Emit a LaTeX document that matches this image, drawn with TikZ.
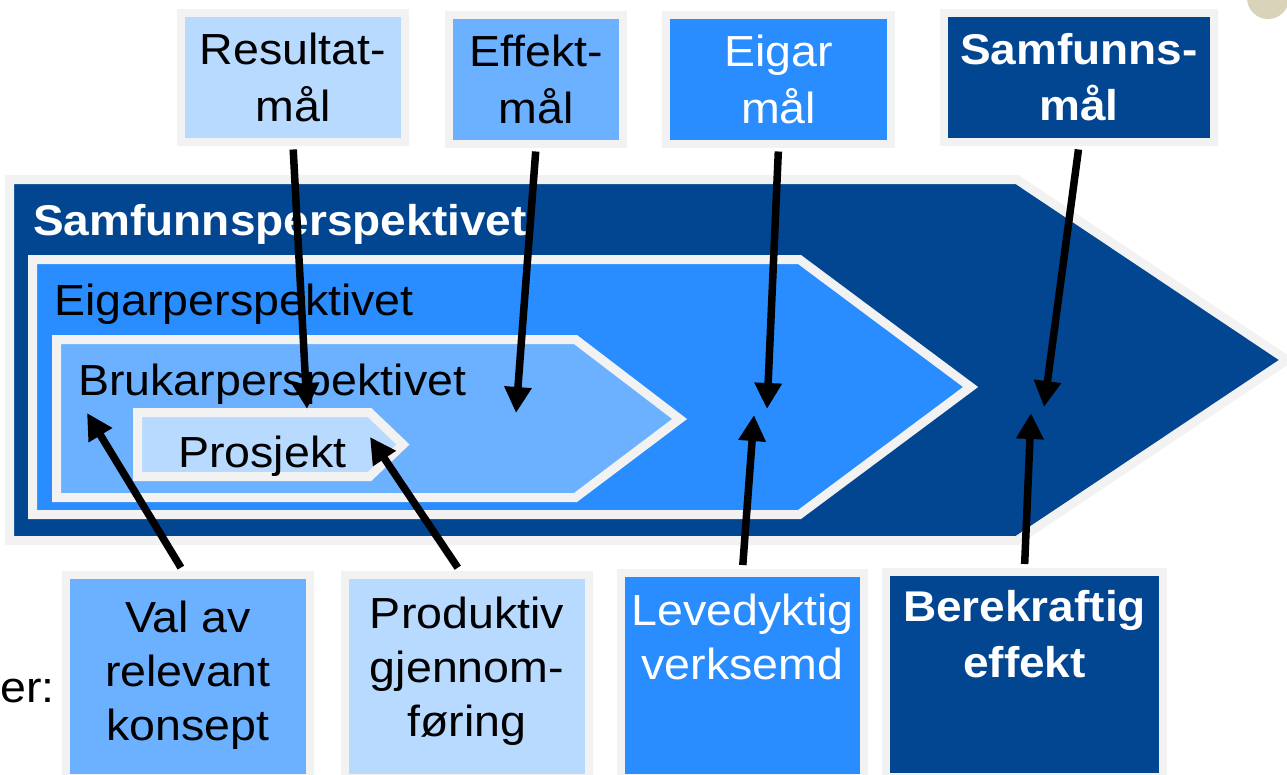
\documentclass[tikz,border=0pt]{standalone}
\usepackage{fontspec}
\setmainfont{Liberation Sans}[FakeStretch=1.07]
\usetikzlibrary{arrows.meta,positioning}
\definecolor{navy}{RGB}{2,70,145}
\definecolor{midblue}{RGB}{41,140,255}
\definecolor{lightblue}{RGB}{108,177,255}
\definecolor{paleblue}{RGB}{184,218,255}
\definecolor{rim}{RGB}{242,242,242}
\definecolor{dot}{RGB}{217,211,186}

\begin{document}
\begin{tikzpicture}[x=1pt,y=-1pt]
% Define node styles
\tikzstyle{goal} = [draw=rim, line width=8pt, inner sep=0pt, align=center, font=\fontsize{43.5}{57}\selectfont]
\tikzstyle{crit} = [goal, anchor=north, font=\fontsize{43.5}{54}\selectfont]
\tikzstyle{persp} = [draw=rim, line width=9pt, line join=miter]
\tikzstyle{caption} = [anchor=base west, inner sep=0pt, font=\fontsize{43.5}{52}\selectfont]
\tikzstyle{heavy} = [font=\fontsize{43}{56}\selectfont\bfseries]
\tikzstyle{link} = [line width=7.5pt, -{Triangle[length=26pt,width=26pt]}]

\useasboundingbox (0,0) rectangle (1287,774);
\fill[dot] (1268,-2) circle (21);

% Draw perspectives
\draw[persp, fill=navy] (9.5,179.5) -- (1017,179.5) -- (1287,360) -- (1017,540.5) -- (9.5,540.5) -- cycle;
\draw[persp, fill=midblue] (32.5,259.5) -- (799.5,259.5) -- (970.6,387) -- (799.5,514.5) -- (32.5,514.5) -- cycle;
\draw[persp, fill=lightblue] (56.5,339.5) -- (575.5,339.5) -- (679.6,419) -- (575.5,497.5) -- (56.5,497.5) -- cycle;
\draw[persp, fill=paleblue] (137.5,412.5) -- (369.5,412.5) -- (403,444.5) -- (369.5,476.5) -- (137.5,476.5) -- cycle;

\node[caption, heavy, text=white] (samT) at (33,235) {Samfunnsperspektivet};
\node[caption] (eigT) at (54,315) {Eigarperspektivet};
\node[caption] (bruT) at (78,395) {Brukarperspektivet};
\node[caption] (proT) at (178,467) {Prosjekt};
\node[caption] (er) at (0,702) {er:};

% Draw nodes
\node[goal, fill=paleblue, minimum width=224pt, minimum height=129pt] (res) at (293,77) {Resultat-\\mål};
\node[goal, fill=lightblue, minimum width=174pt, minimum height=129pt] (eff) at (536,79) {Effekt-\\mål};
\node[goal, fill=midblue, text=white, minimum width=225pt, minimum height=129pt] (eig) at (778.5,79) {Eigar\\mål};
\node[goal, heavy, fill=navy, text=white, minimum width=270pt, minimum height=129pt] (sam) at (1079,77) {Samfunns-\\mål};

\node[crit, fill=lightblue, minimum width=244pt, text height=165pt, text depth=38pt] (val) at (188,571) {Val av\\relevant\\konsept};
\node[crit, fill=paleblue, minimum width=244pt, text height=161pt, text depth=42pt] (pro) at (467,571) {Produktiv\\gjennom-\\føring};
\node[crit, fill=midblue, text=white, minimum width=243pt, text height=106pt, text depth=99pt] (lev) at (742.5,569) {Levedyktig\\verksemd};
\node[crit, heavy, fill=navy, text=white, minimum width=277pt, text height=105pt, text depth=100pt] (ber) at (1024.5,568) {Berekraftig\\effekt};

\coordinate (resEnd) at (307,409);
\coordinate (effEnd) at (516,413);
\coordinate (eigEnd) at (767,409);
\coordinate (samEnd) at (1044,407);
\coordinate (valEnd) at (87,413);
\coordinate (proEnd) at (370,437);
\coordinate (levEnd) at (754,415);
\coordinate (berEnd) at (1031,413);

% Draw edges
\draw[link, shorten <=4pt] (res.south) -- (resEnd);
\draw[link, shorten <=4pt] (eff.south) -- (effEnd);
\draw[link, shorten <=4pt] (eig.south) -- (eigEnd);
\draw[link, shorten <=4pt] (sam.south) -- (samEnd);
\draw[link, shorten <=4pt] ([xshift=-5pt]val.north) -- (valEnd);
\draw[link, shorten <=4pt] ([xshift=-7pt]pro.north) -- (proEnd);
\draw[link, shorten <=4pt] (lev.north) -- (levEnd);
\draw[link, shorten <=4pt] (ber.north) -- (berEnd);
\end{tikzpicture}
\end{document}
